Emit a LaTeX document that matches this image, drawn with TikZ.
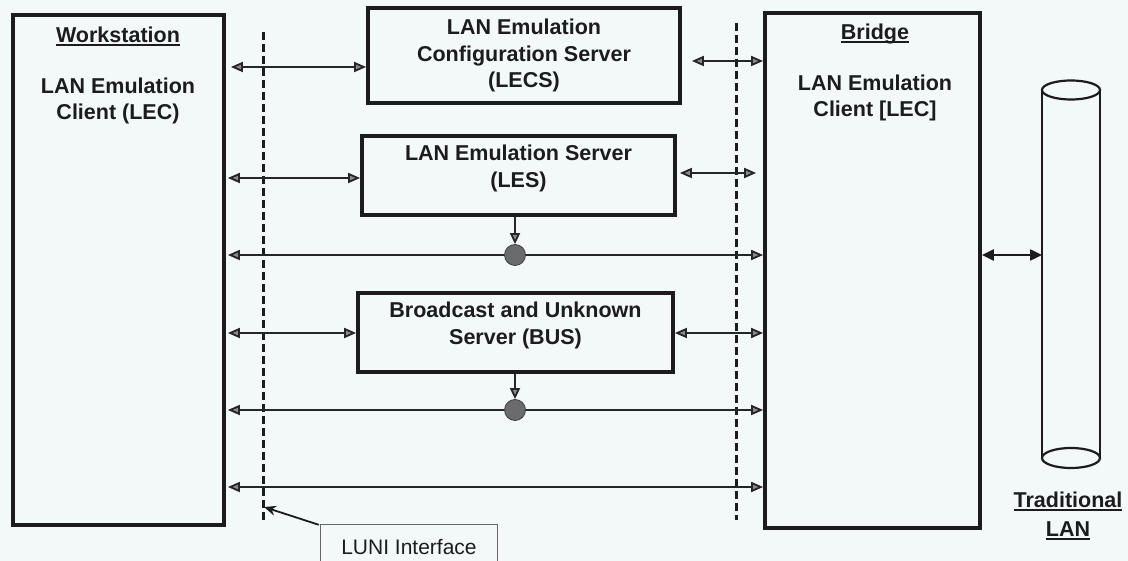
\documentclass[tikz,border=0pt]{standalone}
\usepackage{fontspec}
\setmainfont{Liberation Sans}
\usetikzlibrary{arrows.meta,calc}
\definecolor{bg}{RGB}{243,248,248}
\definecolor{ink}{RGB}{28,28,30}
\newcommand\myul[1]{\setbox0\hbox{#1}\rlap{\rule[-3.5pt]{\wd0}{1.8pt}}\box0}
\begin{document}
\begin{tikzpicture}[x=1pt,y=-1pt,
  every node/.style={text=ink},
  bigbox/.style={draw=ink,line width=3.8pt,rectangle,inner sep=0pt,fill=bg},
  srvbox/.style={draw=ink,line width=3.8pt,rectangle,inner sep=0pt,align=center,font=\bfseries\fontsize{21.5}{26.5}\selectfont,fill=bg},
  lbl/.style={align=center,font=\bfseries\fontsize{21.5}{26.5}\selectfont},
  conn/.style={draw=black!85,line width=1.8pt,{Triangle[length=12pt,width=10pt,fill=black!45]}-{Triangle[length=12pt,width=10pt,fill=black!45]}},
  downarr/.style={draw=black!85,line width=1.8pt,-{Triangle[length=11pt,width=10pt,fill=black!45]}},
  luniline/.style={draw=ink,line width=3pt,dash pattern=on 8pt off 4pt},
  dot/.style={circle,draw=black!75,fill=black!58,minimum size=21pt,inner sep=0pt,line width=0.8pt}
]
\useasboundingbox[fill=bg] (0,0) rectangle (1128,561);

% main boxes
\node[bigbox,minimum width=211pt,minimum height=510pt] (ws) at (118.5,270) {};
\node[bigbox,minimum width=215pt,minimum height=515pt] (br) at (872.5,270.5) {};
\node[lbl] (wst) at (118,36) {\myul{Workstation}};
\node[lbl] (wsc) at (118,101) {LAN Emulation\\Client (LEC)};
\node[lbl] (brt) at (875,34) {\myul{Bridge}};
\node[lbl] (brc) at (875,98) {LAN Emulation\\Client [LEC]};

% servers
\node[srvbox,minimum width=312pt,minimum height=95pt] (lecs) at (524,55.5) {LAN Emulation\\Configuration Server\\(LECS)};
\node[srvbox,minimum width=313pt,minimum height=79pt] (les) at (518.5,175.5) {LAN Emulation Server\\(LES)\\[-8pt]};
\node[srvbox,minimum width=315pt,minimum height=79pt] (bus) at (515.5,332.5) {Broadcast and Unknown\\Server (BUS)\\[-8pt]};

% LUNI dashed lines
\coordinate (dlt) at (263,32);
\coordinate (dlb) at (263,522);
\coordinate (drt) at (736,23);
\coordinate (drb) at (736,520);
\draw[luniline] (dlt) -- (dlb);
\draw[luniline] (drt) -- (drb);

% row levels
\coordinate (r1l) at (0,67);
\coordinate (r1r) at (0,61);
\coordinate (r2l) at (0,178);
\coordinate (r2r) at (0,173);
\coordinate (r3) at (0,255);
\coordinate (r4) at (0,333);
\coordinate (r5) at (0,410);
\coordinate (r6) at (0,487);

% connectors
\draw[conn,shorten <=5pt] (ws.east |- r1l) -- (lecs.west |- r1l);
\draw[conn,shorten <=10pt] (lecs.east |- r1r) -- (br.west |- r1r);
\draw[conn,shorten <=2pt] (ws.east |- r2l) -- (les.west |- r2l);
\draw[conn,shorten <=3pt,shorten >=7pt] (les.east |- r2r) -- (br.west |- r2r);
\draw[conn,shorten <=2pt] (ws.east |- r3) -- (br.west |- r3);
\draw[conn,shorten <=2pt] (ws.east |- r4) -- (bus.west |- r4);
\draw[conn] (bus.east |- r4) -- (br.west |- r4);
\draw[conn,shorten <=2pt] (ws.east |- r5) -- (br.west |- r5);
\draw[conn,shorten <=2pt] (ws.east |- r6) -- (br.west |- r6);

% multicast dots
\node[dot] (c1) at (515,255) {};
\node[dot] (c2) at (515,410) {};
\draw[downarr] (c1 |- les.south) -- (c1.north);
\draw[downarr] (c2 |- bus.south) -- (c2.north);

% traditional LAN cylinder
\coordinate (cyt) at (1071,90);
\coordinate (cyb) at (1071,458);
\draw[ink,line width=2.2pt] (1042,90) -- (1042,458);
\draw[ink,line width=2.2pt] (1100,90) -- (1100,458);
\draw[ink,line width=2.2pt,fill=bg] (cyt) ellipse[x radius=29,y radius=9.5];
\draw[ink,line width=2.2pt] (cyb) ellipse[x radius=29,y radius=10];
\coordinate (lanw) at (1042,255);
\draw[ink,line width=2.4pt,{Triangle[length=12pt,width=11pt]}-{Triangle[length=12pt,width=11pt]}] (br.east |- r3) -- (lanw);
\node[lbl] (lant) at (1068,516) {\myul{Traditional}\\[2pt]\myul{LAN}};

% LUNI interface callout
\node[font=\fontsize{21}{25}\selectfont,minimum width=176pt,minimum height=44pt,inner sep=0pt] (luni) at (409,547) {LUNI Interface\\[-6pt]};
\draw[gray!80!black,line width=0.9pt] (luni.south west) -- (luni.north west) -- (luni.north east) -- (luni.south east);
\coordinate (lunitip) at (264,507);
\draw[ink,line width=1.8pt,-{Stealth[length=12pt,width=10pt]}] ([xshift=-2pt]luni.north west) -- (lunitip);
\end{tikzpicture}
\end{document}
